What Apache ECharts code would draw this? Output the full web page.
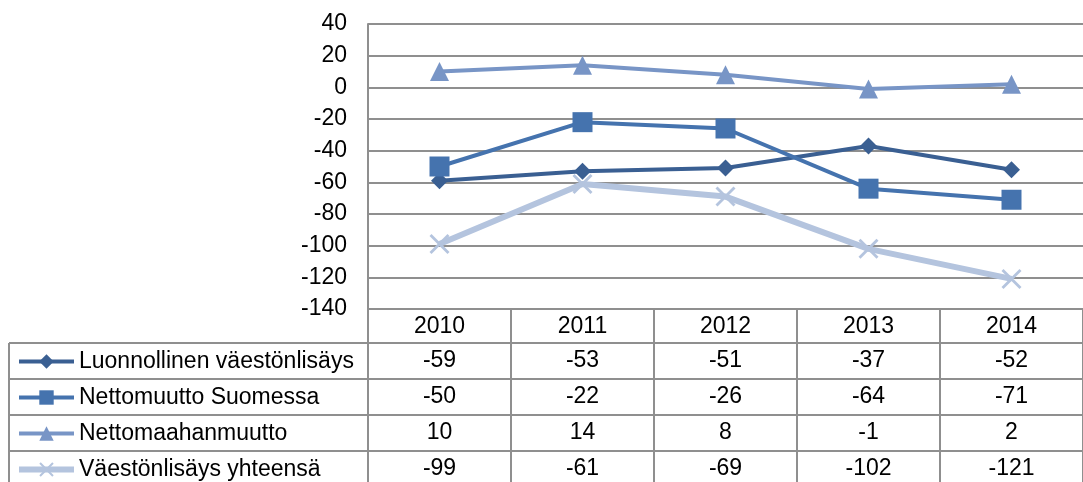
<!DOCTYPE html>
<html>
<head>
<meta charset="utf-8">
<script src="https://cdn.jsdelivr.net/npm/echarts@6/dist/echarts.min.js"></script>
<style>
  html, body { margin: 0; padding: 0; background: #fff; }
  #chart { width: 1083px; height: 482px; }
</style>
</head>
<body>
<div id="chart"></div>
<script>
const years = ['2010', '2011', '2012', '2013', '2014'];
const seriesNames = ['Luonnollinen väestönlisäys', 'Nettomuutto Suomessa', 'Nettomaahanmuutto', 'Väestönlisäys yhteensä'];
const luonnollinen = [-59, -53, -51, -37, -52];
const nettomuutto = [-50, -22, -26, -64, -71];
const maahanmuutto = [10, 14, 8, -1, 2];
const yhteensa = [-99, -61, -69, -102, -121];
const yTicks = { min: -140, max: 40, interval: 20 };

const FONT = "'Liberation Sans', Arial, sans-serif";
const GRAY = '#8f8f8f';
const colors = ['#3a5f92', '#4573ae', '#7895c6', '#b4c4de'];
const crossPath = 'path://M0,1L1,0L10,9L9,10Z M9,0L10,1L1,10L0,9Z';

const allValues = [luonnollinen, nettomuutto, maahanmuutto, yhteensa];
const symbols = ['diamond', 'rect', 'triangle', crossPath];
const symbolSizes = [17, 20, 19, 20];
const lineWidths = [4, 4, 4, 6];

const chart = echarts.init(document.getElementById('chart'));

const rowAxes = allValues.map((vals, i) => ({
  type: 'category',
  gridIndex: 0,
  position: 'bottom',
  offset: 34 + 36 * i,
  data: vals.map(String),
  axisLine: { show: true, onZero: false, lineStyle: { color: GRAY, width: 2 } },
  axisTick: { show: false },
  axisLabel: { color: '#000', fontFamily: FONT, fontSize: 23, margin: 6 },
}));

// left column borders of the data table
const leftLines = [343, 379, 415, 451].map(y => ({
  type: 'line',
  shape: { x1: 9, y1: y, x2: 368, y2: y },
  style: { stroke: GRAY, lineWidth: 2 },
}));
leftLines.push({
  type: 'line',
  shape: { x1: 9, y1: 343, x2: 9, y2: 482 },
  style: { stroke: GRAY, lineWidth: 2 },
});

chart.setOption({
  backgroundColor: '#fff',
  animation: false,
  textStyle: { fontFamily: FONT },
  grid: { left: 368, top: 24, width: 724, bottom: 173 },
  legend: {
    orient: 'vertical',
    left: 16,
    top: 350,
    padding: 0,
    itemWidth: 55,
    itemHeight: 18,
    itemGap: 13,
    data: seriesNames.map((name, i) => ({
      name: name,
      lineStyle: { width: lineWidths[i], color: colors[i] },
    })),
    textStyle: { color: '#000', fontFamily: FONT, fontSize: 23 },
  },
  xAxis: [
    {
      type: 'category',
      data: years,
      boundaryGap: true,
      axisLine: { show: true, onZero: false, lineStyle: { color: GRAY, width: 2 } },
      axisTick: { show: true, length: 175, lineStyle: { color: GRAY, width: 2 } },
      axisLabel: { color: '#000', fontFamily: FONT, fontSize: 23, margin: 6 },
    },
    ...rowAxes,
  ],
  yAxis: {
    type: 'value',
    min: yTicks.min,
    max: yTicks.max,
    interval: yTicks.interval,
    axisLine: { show: true, lineStyle: { color: GRAY, width: 2 } },
    axisTick: { show: false },
    axisLabel: { color: '#000', fontFamily: FONT, fontSize: 23, margin: 21 },
    splitLine: { lineStyle: { color: GRAY, width: 2 } },
  },
  graphic: leftLines,
  series: seriesNames.map((name, i) => ({
    type: 'line',
    name: name,
    data: allValues[i],
    xAxisIndex: 0,
    symbol: symbols[i],
    symbolSize: symbolSizes[i],
    showAllSymbol: true,
    lineStyle: { color: colors[i], width: lineWidths[i] },
    itemStyle: { color: colors[i] },
    emphasis: { disabled: true },
  })),
});
</script>
</body>
</html>
